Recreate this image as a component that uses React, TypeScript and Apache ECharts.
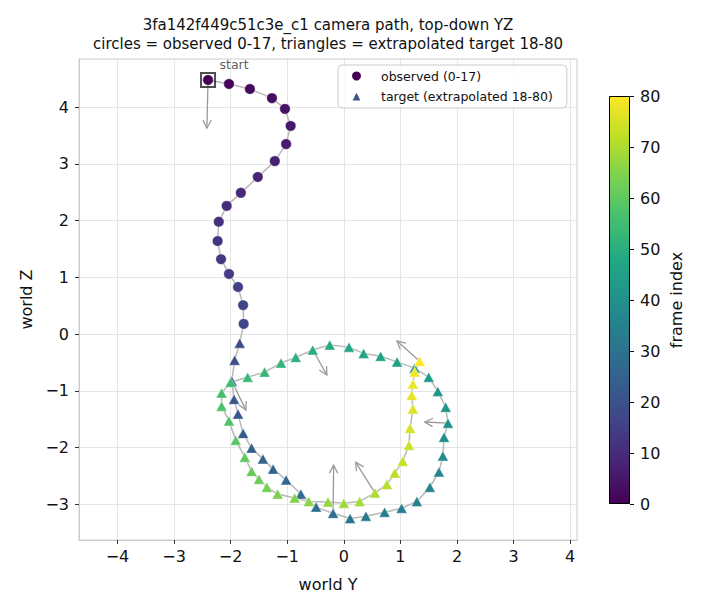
import React, { useEffect, useRef } from 'react';
import * as echarts from 'echarts';

const FONT = 'DejaVu Sans';

// observed frames 0-17 (world Y, world Z)
const obsY = [-2.40, -2.03, -1.66, -1.27, -1.04, -0.94, -1.02, -1.22, -1.52, -1.82, -2.07, -2.21, -2.23, -2.17, -2.03, -1.87, -1.78, -1.77];
const obsZ = [4.48, 4.41, 4.32, 4.16, 3.97, 3.67, 3.35, 3.05, 2.77, 2.49, 2.26, 1.98, 1.64, 1.32, 1.06, 0.83, 0.51, 0.18];

// extrapolated target frames 18-80
const tgtY = [
  -1.84, -1.93, -1.98, -1.94, -1.87, -1.78, -1.63, -1.43, -1.25, -1.02,
  -0.76, -0.49, -0.19, 0.11, 0.39, 0.72, 1.02, 1.29, 1.52, 1.68,
  1.75, 1.77, 1.84, 1.80, 1.66, 1.50, 1.25, 0.94, 0.65, 0.35,
  0.09, -0.25, -0.55, -0.85, -1.11, -1.40, -1.70, -2.00, -2.16, -2.16,
  -2.03, -1.91, -1.75, -1.63, -1.50, -1.36, -1.17, -0.87, -0.62, -0.28,
  0.00, 0.28, 0.55, 0.76, 0.90, 1.04, 1.15, 1.17, 1.22, 1.20,
  1.22, 1.25, 1.34,
];
const tgtZ = [
  -0.16, -0.46, -0.83, -1.15, -1.41, -1.75, -2.01, -2.20, -2.38, -2.57,
  -2.82, -3.05, -3.16, -3.25, -3.21, -3.14, -3.07, -2.95, -2.70, -2.43,
  -2.15, -1.82, -1.57, -1.29, -1.01, -0.76, -0.60, -0.49, -0.39, -0.34,
  -0.23, -0.19, -0.28, -0.41, -0.51, -0.67, -0.76, -0.85, -1.04, -1.27,
  -1.53, -1.87, -2.17, -2.42, -2.56, -2.70, -2.82, -2.89, -2.95, -2.96,
  -2.98, -2.95, -2.80, -2.65, -2.45, -2.24, -1.96, -1.66, -1.32, -1.08,
  -0.88, -0.67, -0.48,
];
const firstTargetFrame = 18;

// camera direction arrows: [y0, z0, y1, z1]
const arrows = [
  [-2.40, 4.48, -2.42, 3.63],
  [-1.98, -0.83, -1.73, -1.34],
  [-0.55, -0.28, -0.30, -0.72],
  [1.34, -0.48, 0.94, -0.12],
  [1.84, -1.57, 1.43, -1.55],
  [-0.19, -3.16, -0.18, -2.31],
  [0.55, -2.80, 0.21, -2.26],
];

const xTicks = [-4, -3, -2, -1, 0, 1, 2, 3, 4];
const yTicks = [-3, -2, -1, 0, 1, 2, 3, 4];
const colorbarRange = [0, 80];
const colorbarTicks = 10;

const VIRIDIS = ['#440154', '#482475', '#414487', '#355f8d', '#2a788e', '#21918c', '#22a884', '#44bf70', '#7ad151', '#bddf26', '#fde725'];

const xRange = [-4.68, 4.12];
const yRange = [-3.63, 4.85];

const fmtTick = (v: number) => {
  const r = Math.round(v);
  if (Math.abs(v - r) > 1e-6) return '';
  return r < 0 ? '\u2212' + Math.abs(r) : String(r);
};

export default function App() {
  const ref = useRef<HTMLDivElement>(null);
  useEffect(() => {
    if (!ref.current) return;
    const chart = echarts.init(ref.current, null, { renderer: 'svg' });

    const obsData = obsY.map((y, i) => [y, obsZ[i], i]);
    const tgtData = tgtY.map((y, i) => [y, tgtZ[i], firstTargetFrame + i]);
    const pathData = [...obsData, ...tgtData].map((d) => [d[0], d[1]]);

    const txt = { fontFamily: FONT, color: '#111' };

    const option: any = {
      animation: false,
      title: {
        text: '3fa142f449c51c3e_c1 camera path, top-down YZ\ncircles = observed 0-17, triangles = extrapolated target 18-80',
        left: 328,
        top: 15,
        textAlign: 'center',
        padding: 0,
        textStyle: { ...txt, fontSize: 15, fontWeight: 'normal', lineHeight: 19 },
      },
      legend: {
        orient: 'vertical',
        left: 338,
        top: 65,
        padding: [4, 14, 5, 12],
        itemGap: 6,
        itemWidth: 11,
        itemHeight: 11,
        borderColor: '#cccccc',
        borderWidth: 1,
        borderRadius: 4,
        backgroundColor: 'rgba(255,255,255,0.85)',
        textStyle: { ...txt, fontSize: 12.5, lineHeight: 14, padding: [0, 0, 0, 14] },
        data: [
          { name: 'observed (0-17)', icon: 'circle', itemStyle: { color: '#440154' } },
          { name: 'target (extrapolated 18-80)', icon: 'triangle', itemStyle: { color: '#3b528b' } },
        ],
      },
      grid: [
        { left: 79, top: 59, width: 498, height: 481, show: true, borderColor: '#cccccc', borderWidth: 1, backgroundColor: 'transparent' },
        { left: 609, top: 96, width: 21, height: 408, show: false },
      ],
      xAxis: [
        {
          type: 'value', gridIndex: 0, min: xRange[0], max: xRange[1], splitNumber: 8,
          axisLine: { show: true, onZero: false, lineStyle: { color: '#cccccc' } },
          axisTick: { show: true, length: 4, lineStyle: { color: '#333' }, customValues: xTicks },
          axisLabel: { ...txt, formatter: fmtTick, fontSize: 16, margin: 8, customValues: xTicks },
          splitLine: { show: true, lineStyle: { color: '#e5e5e5', width: 1 } },
          name: 'world Y', nameLocation: 'middle', nameGap: 36,
          nameTextStyle: { ...txt, fontSize: 16 },
        },
        { type: 'category', gridIndex: 1, data: [''], show: false },
      ],
      yAxis: [
        {
          type: 'value', gridIndex: 0, min: yRange[0], max: yRange[1], splitNumber: 8,
          axisLine: { show: true, onZero: false, lineStyle: { color: '#cccccc' } },
          axisTick: { show: true, length: 4, lineStyle: { color: '#333' }, customValues: yTicks },
          axisLabel: { ...txt, formatter: fmtTick, fontSize: 16, margin: 10, customValues: yTicks },
          splitLine: { show: true, lineStyle: { color: '#e5e5e5', width: 1 } },
          name: 'world Z', nameLocation: 'middle', nameGap: 45, nameRotate: 90,
          nameTextStyle: { ...txt, fontSize: 16 },
        },
        {
          type: 'value', gridIndex: 1, min: colorbarRange[0], max: colorbarRange[1], interval: colorbarTicks,
          position: 'right',
          axisLine: { show: false },
          axisTick: { show: true, length: 4, lineStyle: { color: '#000' } },
          axisLabel: { ...txt, fontSize: 16, margin: 10 },
          splitLine: { show: false },
          name: 'frame index', nameLocation: 'middle', nameGap: 38, nameRotate: 90,
          nameTextStyle: { ...txt, fontSize: 16 },
        },
      ],
      visualMap: {
        type: 'continuous', show: false, min: colorbarRange[0], max: colorbarRange[1],
        dimension: 2, seriesIndex: [2, 3], inRange: { color: VIRIDIS },
      },
      series: [
        {
          type: 'line', xAxisIndex: 0, yAxisIndex: 0, data: pathData, showSymbol: false,
          lineStyle: { color: '#b8b8b8', width: 1.5 }, z: 2, silent: true,
        },
        {
          type: 'custom', xAxisIndex: 0, yAxisIndex: 0, data: arrows, z: 3, silent: true,
          encode: { x: [0, 2], y: [1, 3] },
          renderItem: (params: any, api: any) => {
            const p0 = api.coord([api.value(0), api.value(1)]);
            const p1 = api.coord([api.value(2), api.value(3)]);
            const dx = p1[0] - p0[0];
            const dy = p1[1] - p0[1];
            const len = Math.hypot(dx, dy) || 1;
            const ux = dx / len;
            const uy = dy / len;
            const h = 8;
            const w = 4.2;
            const bx = p1[0] - ux * h;
            const by = p1[1] - uy * h;
            const left = [bx - uy * w, by + ux * w];
            const right = [bx + uy * w, by - ux * w];
            const st = { stroke: '#9a9a9a', lineWidth: 1.3, fill: null };
            return {
              type: 'group',
              children: [
                { type: 'line', shape: { x1: p0[0], y1: p0[1], x2: p1[0], y2: p1[1] }, style: st },
                { type: 'polyline', shape: { points: [left, p1, right] }, style: st },
              ],
            };
          },
        },
        {
          name: 'observed (0-17)', type: 'scatter', xAxisIndex: 0, yAxisIndex: 0,
          data: obsData, symbol: 'circle', symbolSize: 10.5, z: 4,
          itemStyle: { borderColor: '#ffffff', borderWidth: 0.4, opacity: 1 },
        },
        {
          name: 'target (extrapolated 18-80)', type: 'scatter', xAxisIndex: 0, yAxisIndex: 0,
          data: tgtData, symbol: 'triangle', symbolSize: [11, 10], z: 4,
          itemStyle: { borderColor: '#ffffff', borderWidth: 0.4, opacity: 1 },
        },
        {
          type: 'scatter', xAxisIndex: 0, yAxisIndex: 0, data: [[obsY[0], obsZ[0]]],
          symbol: 'rect', symbolSize: 14, z: 5, silent: true,
          itemStyle: { color: 'rgba(0,0,0,0)', borderColor: '#222', borderWidth: 2 },
          label: {
            show: true, formatter: 'start', position: 'inside', offset: [26, -15],
            fontSize: 12.5, color: '#333', fontFamily: FONT,
          },
        },
        {
          type: 'bar', xAxisIndex: 1, yAxisIndex: 1, data: [colorbarRange[1]], barWidth: '100%', silent: true,
          itemStyle: {
            color: new echarts.graphic.LinearGradient(0, 1, 0, 0,
              VIRIDIS.map((c, i) => ({ offset: i / (VIRIDIS.length - 1), color: c }))),
            borderColor: '#000', borderWidth: 1,
          },
        },
      ],
    };
    chart.setOption(option);
    return () => chart.dispose();
  }, []);
  return <div ref={ref} style={{ position: 'fixed', left: 0, top: 0, width: 720, height: 612, background: '#fff' }} />;
}
